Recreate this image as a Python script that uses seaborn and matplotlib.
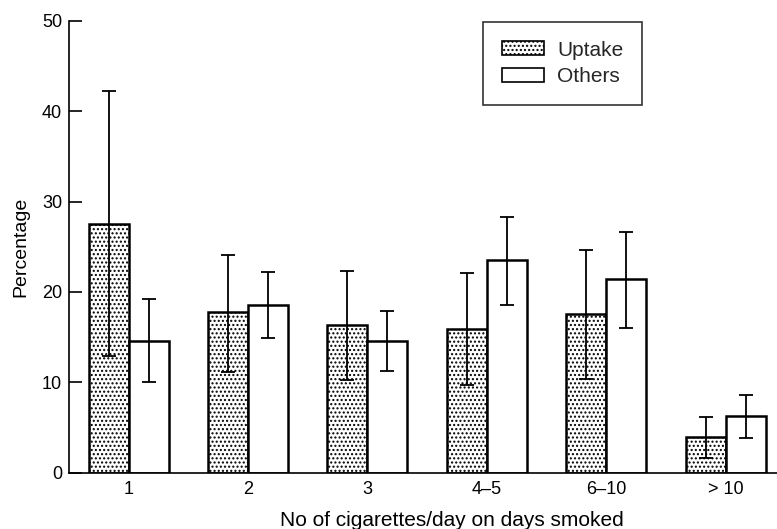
import pandas as pd
import matplotlib
matplotlib.use("Agg")
import matplotlib.pyplot as plt
from matplotlib.patches import Patch
import seaborn as sns

# --- Data ---
categories = ["1", "2", "3", "4\u20135", "6\u201310", "> 10"]
groups = ["Uptake", "Others"]

uptake = [27.5, 17.8, 16.3, 15.9, 17.6, 4.0]
uptake_lo = [12.9, 11.2, 10.3, 9.7, 10.4, 1.7]
uptake_hi = [42.2, 24.1, 22.3, 22.1, 24.6, 6.2]

others = [14.6, 18.6, 14.6, 23.5, 21.4, 6.3]
others_lo = [10.0, 14.9, 11.3, 18.6, 16.0, 3.9]
others_hi = [19.2, 22.2, 17.9, 28.3, 26.6, 8.6]

y_ticks = [0, 10, 20, 30, 40, 50]

# long-form table for seaborn
df = pd.DataFrame({
    "cigs": categories * 2,
    "group": [groups[0]] * len(categories) + [groups[1]] * len(categories),
    "pct": uptake + others,
    "lo": uptake_lo + others_lo,
    "hi": uptake_hi + others_hi,
})

sns.set_theme(style="ticks")
plt.rcParams["font.family"] = ["Liberation Sans", "DejaVu Sans"]
plt.rcParams["hatch.linewidth"] = 1.0
plt.rcParams["hatch.color"] = "black"

fig = plt.figure(figsize=(7.77, 5.29), dpi=100)
ax = fig.add_axes([0.0888, 0.1059, 0.9112, 0.8553])

sns.barplot(data=df, x="cigs", y="pct", hue="group", order=categories,
            hue_order=groups, palette=["white", "white"], width=0.67,
            edgecolor="black", linewidth=1.8, errorbar=None, legend=False, ax=ax)

# hatch the uptake bars and add the error bars at the bar centres
for container, grp in zip(ax.containers, groups):
    sub = df[df["group"] == grp].set_index("cigs").loc[categories]
    xs = [bar.get_x() + bar.get_width() / 2 for bar in container]
    if grp == "Uptake":
        for bar in container:
            bar.set_hatch("....")
    ax.errorbar(xs, sub["pct"],
                yerr=[sub["pct"] - sub["lo"], sub["hi"] - sub["pct"]],
                fmt="none", ecolor="black", elinewidth=1.3, capsize=5,
                capthick=1.3, zorder=5)

ax.set_xlim(-0.5, 5.43)
ax.set_ylim(0, 50)
ax.set_yticks(y_ticks)
ax.tick_params(axis="y", direction="in", length=9, width=1.2, labelsize=13,
               pad=5, colors="black")
ax.tick_params(axis="x", length=0, labelsize=13, pad=6, colors="black")
ax.set_ylabel("Percentage", fontsize=14, labelpad=9, color="black")
ax.set_xlabel("No of cigarettes/day on days smoked", fontsize=15, color="black")
ax.xaxis.set_label_coords(0.541, -0.085)

sns.despine(ax=ax)
for side in ["left", "bottom"]:
    ax.spines[side].set_linewidth(1.2)
    ax.spines[side].set_color("black")

handles = [
    Patch(facecolor="white", edgecolor="black", hatch="....", linewidth=1.2),
    Patch(facecolor="white", edgecolor="black", linewidth=1.2),
]
leg = ax.legend(handles, groups, loc="upper left", bbox_to_anchor=(0.585, 0.997),
                frameon=True, fancybox=False, edgecolor="black", fontsize=15,
                borderpad=0.9, labelspacing=0.35, handlelength=2.0,
                handleheight=0.65, handletextpad=0.65, borderaxespad=0)
leg.get_frame().set_linewidth(1.2)

fig.savefig("out.png", dpi=100, facecolor="white")
